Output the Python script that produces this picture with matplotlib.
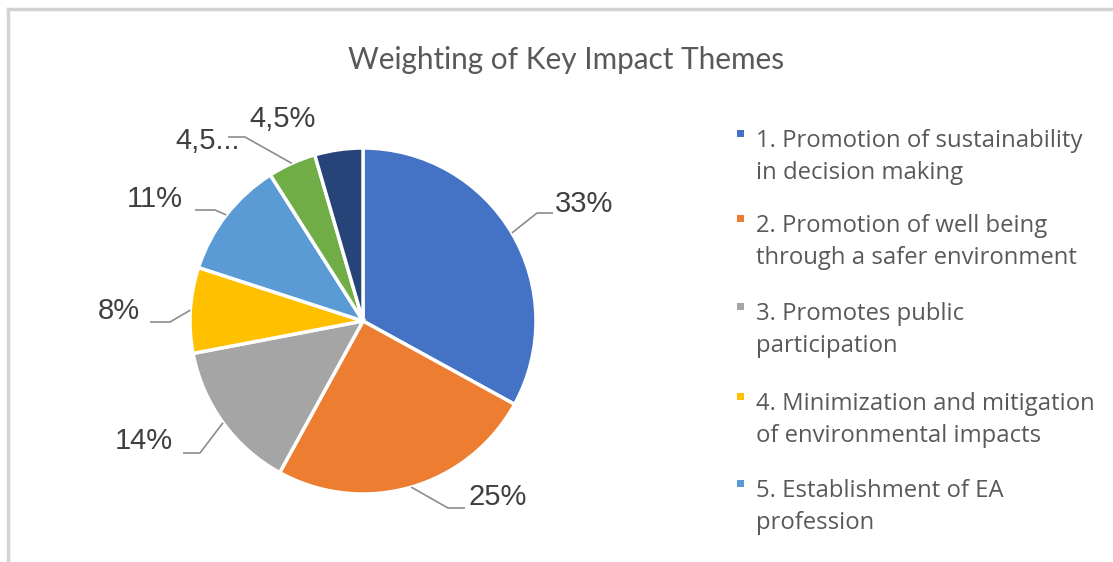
import matplotlib
matplotlib.use("Agg")
import matplotlib.pyplot as plt
import numpy as np

# ---- data ----
title = "Weighting of Key Impact Themes"
categories = [
    "1. Promotion of sustainability\nin decision making",
    "2. Promotion of well being\nthrough a safer environment",
    "3. Promotes public\nparticipation",
    "4. Minimization and mitigation\nof environmental impacts",
    "5. Establishment of EA\nprofession",
    "6.",
    "7.",
]
values = [33, 25, 14, 8, 11, 4.5, 4.5]
value_labels = ["33%", "25%", "14%", "8%", "11%", "4,5...", "4,5%"]
colors = ["#4472C4", "#ED7D31", "#A5A5A5", "#FFC000", "#5B9BD5", "#70AD47", "#264478"]
legend_shown = 5

# ---- layout (pixel units, y measured upward) ----
W, H = 1113, 562
cx, cy, R = 363, 241, 173
# label text offsets from centre and alignment
label_pos = [(192, 117, "left"), (105, -176, "left"), (-190, -120, "right"),
             (-223, 10, "right"), (-180, 122, "right"), (-123, 180, "right"),
             (-80, 202, "center")]
# leader: (x start, x elbow, y) offsets from centre, or None
leaders = [(190, 174, 108), (102, 85, -187), (-180, -163, -132),
           (-213, -193, -1), (-168, -148, 111), (-135, -118, 184), None]

fig = plt.figure(figsize=(W / 100, H / 100), dpi=100)
ax = fig.add_axes([0, 0, 1, 1])

wedges, _ = ax.pie(values, colors=colors, startangle=90, counterclock=False,
                   center=(cx, cy), radius=R, frame=True,
                   wedgeprops=dict(edgecolor="white", linewidth=2.5))
ax.set_xlim(0, W)
ax.set_ylim(0, H)
ax.set_aspect("auto")
ax.axis("off")

label_color = "#404040"
for w, lab, (dx, dy, ha), ld in zip(wedges, value_labels, label_pos, leaders):
    ax.text(cx + dx, cy + dy, lab, ha=ha, va="center", fontsize=21,
            family="Liberation Sans", color=label_color)
    if ld is not None:
        mid = np.deg2rad((w.theta1 + w.theta2) / 2)
        ex, ey = cx + R * np.cos(mid), cy + R * np.sin(mid)
        xs, xe, yl = ld
        ax.plot([cx + xs, cx + xe, ex], [cy + yl, cy + yl, ey],
                color="#8C8C8C", lw=1.2, solid_capstyle="butt")

# title
fig.text(566 / W, 1 - 60 / H, title, ha="center", va="center", fontsize=21.4,
         family="Lato", color="#595959")

# legend
leg_center = [139, 224, 312, 402, 489]
line_gap = 32
for i in range(legend_shown):
    y = leg_center[i]
    ax.add_patch(plt.Rectangle((737, H - y + 2), 7, 7, color=colors[i], lw=0))
    for k, line in enumerate(categories[i].split("\n")):
        yy = y + k * line_gap + 8
        ax.text(756, H - yy, line, ha="left", va="baseline",
                fontsize=17.2, family="Open Sans", color="#595959")

# frame (top and left edge)
ax.plot([8, W], [H - 9, H - 9], color="#D3D3D3", lw=2.5)
ax.plot([8, 8], [H - 9, 0], color="#D3D3D3", lw=2.5)

fig.savefig("out.png", dpi=100, facecolor="white")
